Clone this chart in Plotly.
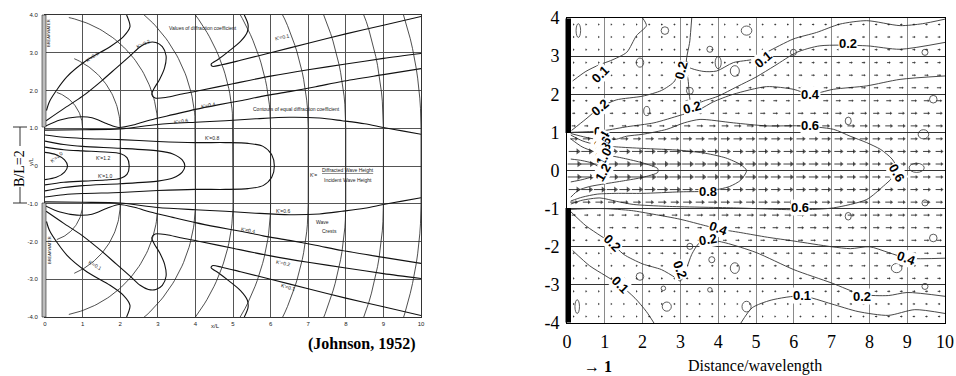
import numpy as np
import plotly.graph_objects as go

W, H = 956, 376

def px(x):
    return x / W

def py(y):
    return 1 - y / H

# ---------------- Left panel: Johnson (1952), B/L = 2 ----------------
# upper-half curves (lower half drawn as the mirror image)
jk_01_inner = [(0.04, 1.47), (0.13, 1.73), (0.58, 2.36), (1.11, 2.8), (1.73, 3.16),
               (2.08, 3.42), (2.26, 3.69), (2.17, 4.0)]
jk_02_loop = [(0.03, 1.2), (0.5, 1.52), (1.0, 1.85), (1.5, 2.25), (1.9, 2.6), (2.3, 2.95),
              (2.53, 3.16), (2.75, 3.27), (2.95, 3.27), (3.12, 3.16), (3.22, 2.92), (3.18, 2.6),
              (3.05, 2.3), (2.9, 2.05), (2.84, 1.9), (2.93, 1.8), (3.24, 1.82), (3.6, 1.9),
              (4.12, 2.0), (5.0, 2.18), (6.0, 2.38), (7.0, 2.55), (8.0, 2.7), (9.0, 2.85), (10, 2.98)]
jk_01_outer = [(5.3, 4.0), (5.4, 3.75), (5.38, 3.55), (5.2, 3.3), (4.9, 3.05), (4.6, 2.82),
               (4.42, 2.7), (4.45, 2.64), (4.7, 2.68), (5.2, 2.8), (6.0, 3.0), (7.0, 3.25),
               (8.0, 3.5), (9.0, 3.73), (10, 3.96)]
jk_04 = [(0.0, 1.05), (0.4, 1.22), (0.85, 1.3), (1.25, 1.28), (1.65, 1.12), (1.97, 1.02),
         (2.4, 1.1), (2.8, 1.22), (3.4, 1.36), (4.0, 1.5), (4.6, 1.62), (5.2, 1.73), (5.8, 1.85),
         (6.5, 1.97), (7.2, 2.1), (7.9, 2.24), (9.0, 2.42), (10, 2.58)]
jk_06 = [(0, 0.95), (1, 0.96), (2, 0.98), (3, 1.1), (4, 1.16), (4.8, 1.2), (5.6, 1.25),
         (6.5, 1.29), (7.3, 1.27), (7.9, 1.2), (8.5, 1.12), (9, 1.02), (9.5, 0.93), (10, 0.84)]
# tongues inside the gap (upper half, closed by mirror)
jk_t08 = [(0, 0.82), (0.5, 0.76), (1, 0.73), (2, 0.7), (3, 0.65), (4, 0.62), (4.8, 0.62),
          (5.4, 0.6), (5.8, 0.52), (6.03, 0.3), (6.1, 0.0)]
jk_t10 = [(0, 0.66), (0.5, 0.57), (1, 0.52), (2, 0.47), (3, 0.4), (3.4, 0.32), (3.65, 0.16), (3.72, 0.0)]
jk_t12 = [(0, 0.5), (0.5, 0.43), (1, 0.4), (1.6, 0.37), (2.0, 0.33), (2.18, 0.22), (2.24, 0.0)]
jk_t20 = [(0, 0.36), (0.3, 0.3), (0.52, 0.16), (0.6, 0.0)]
# wave crests: crest number (wavelengths from gap) and where the arc stops near the wall
crest_n = [1, 2, 3, 4, 5, 6, 7, 8, 9, 10]
crest_xmin = [0.3, 0.75, 0.6, 0, 0, 0, 0, 0, 0, 0]

jk_labels = [("K'=0.1", 1.24, 2.89, -35), ("K'=0.2", 2.6, 3.24, -25), ("K'=0.6", 3.63, 1.18, -8),
             ("K'=0.4", 4.34, 1.62, -10), ("K'=0.8", 4.45, 0.74, 0), ("K'=1.2", 1.55, 0.2, 0),
             ("K'=1.0", 1.6, -0.27, 0), ("K'=2.0", 0.3, 0.25, -40), ("K'=0.1", 6.3, 3.42, -12),
             ("K'=0.6", 6.34, -1.2, 0), ("K'=0.4", 5.41, -1.69, 10), ("K'=0.2", 6.34, -2.58, 12),
             ("K'=0.1", 6.47, -3.2, 15), ("K'=0.1", 1.33, -2.62, 30)]

# ---------------- Right panel: measured diffraction ----------------
rc = {
    "c01a": [(0.15, 2.35), (0.5, 2.6), (0.87, 2.78), (1.15, 2.88), (1.58, 3.1), (1.84, 3.54), (2.1, 3.8), (2.0, 4.0)],
    "c01b": [(3.3, 4.0), (3.25, 3.4), (3.17, 2.75), (3.6, 2.6), (3.96, 2.61), (4.4, 2.83), (4.93, 2.92),
             (5.28, 3.1), (5.99, 3.45), (6.6, 3.62), (7.22, 3.84), (7.93, 3.93), (8.81, 3.8), (9.4, 3.85), (10, 3.97)],
    "c02u": [(0.12, 1.05), (0.5, 1.35), (0.87, 1.65), (1.3, 1.85), (2.0, 1.95), (2.5, 2.1), (2.85, 2.35),
             (2.95, 2.8), (3.1, 2.85), (3.2, 2.4), (3.3, 1.75), (3.7, 1.85), (4.0, 1.95), (4.5, 2.2),
             (5.0, 2.45), (5.5, 2.75), (6.08, 3.1), (6.69, 3.27), (7.93, 3.27), (8.81, 3.18), (10, 3.36)],
    "c04u": [(0.1, 1.0), (0.6, 1.02), (1.0, 1.05), (1.6, 1.15), (2.3, 1.25), (3.0, 1.45), (3.5, 1.6),
             (3.87, 1.8), (4.4, 2.0), (5.28, 2.2), (5.99, 2.13), (6.43, 2.0), (7.05, 2.13), (7.93, 2.22),
             (8.81, 2.39), (10, 2.48)],
    "c06": [(0.1, 0.97), (0.5, 0.87), (0.9, 0.8), (1.3, 0.82), (1.58, 0.9), (2.0, 0.95), (2.64, 1.08),
            (3.1, 1.25), (3.52, 1.34), (4.4, 1.25), (5.28, 1.17), (6.16, 1.17), (7.05, 1.08), (7.49, 0.9),
            (7.93, 0.73), (8.3, 0.55), (8.6, 0.3), (8.75, 0.0), (8.6, -0.2), (8.37, -0.41), (7.93, -0.76),
            (7.05, -0.98), (6.16, -1.03), (4.4, -0.98), (2.64, -0.94), (1.75, -0.89), (1.31, -0.81),
            (0.87, -0.72), (0.4, -0.78), (0.1, -0.88)],
    "c08": [(0.1, 0.93), (0.4, 0.78), (0.8, 0.67), (1.3, 0.62), (2, 0.58), (3, 0.53), (3.67, 0.45),
            (4.2, 0.33), (4.6, 0.15), (4.75, 0), (4.6, -0.25), (4.3, -0.42), (3.74, -0.54), (3, -0.56),
            (2, -0.6), (1.3, -0.6), (0.8, -0.62), (0.4, -0.7), (0.1, -0.8)],
    "c10": [(0.1, 0.83), (0.4, 0.62), (0.7, 0.5), (1, 0.42), (1.5, 0.32), (2, 0.2), (2.4, 0.05),
            (2.4, -0.05), (2, -0.18), (1.5, -0.27), (1, -0.35), (0.6, -0.42), (0.3, -0.52), (0.1, -0.7)],
    "c12": [(0.1, 0.3), (0.4, 0.26), (0.7, 0.18), (0.92, 0.0), (0.7, -0.15), (0.4, -0.24), (0.1, -0.3)],
    "c04l": [(0.1, -1.02), (0.6, -1.0), (1.0, -1.0), (1.7, -1.05), (2.3, -1.15), (3.0, -1.28), (3.67, -1.45),
             (4.0, -1.53), (4.6, -1.63), (5.3, -1.75), (6, -1.85), (7, -2.0), (7.5, -2.05), (8, -2.0),
             (8.5, -2.15), (9, -2.3), (10, -2.3)],
    "c02l": [(0.1, -1.08), (0.5, -1.45), (0.9, -1.72), (1.18, -1.9), (1.5, -2.2), (2.0, -2.45), (2.5, -2.6),
             (2.85, -2.8), (3.0, -2.9), (3.15, -2.6), (3.3, -2.2), (3.5, -1.9), (3.74, -1.82), (4.2, -1.9),
             (5, -2.15), (6, -2.6), (7, -2.95), (7.8, -3.25), (8.5, -3.28), (9, -3.2), (10, -3.3)],
    "c01la": [(0.15, -2.1), (0.6, -2.5), (1.0, -2.75), (1.4, -3.0), (1.8, -3.35), (2.1, -3.7), (2.3, -4.0)],
    "c01lb": [(4.6, -4.0), (4.9, -3.6), (5.4, -3.4), (6.21, -3.29), (7, -3.5), (7.7, -3.7), (8.5, -3.8),
              (9.2, -3.65), (10, -3.75)],
}
blob_x = [0.3, 2.59, 3.78, 4.75, 1.93, 4.0, 4.44, 3.25, 2.11, 7.44, 9.43, 9.47, 9.69, 9.25, 5.99,
          7.44, 1.93, 2.64, 3.25, 3.83, 4.44, 4.75, 8.72, 9.47, 9.69, 9.47, 0.27, 2.55, 3.78]
blob_y = [3.67, 3.67, 3.18, 3.67, 2.83, 2.83, 2.61, 2.09, 1.56, 1.3, 0.95, 3.1, 1.87, 0.07, 3.1,
          -1.2, -2.78, -3.57, -1.99, -2.34, -2.56, -3.57, -2.56, -0.85, -1.77, -3.04, -3.57, -3.09, -3.13]
blob_rx = [0.06, 0.1, 0.08, 0.14, 0.1, 0.08, 0.12, 0.09, 0.08, 0.08, 0.14, 0.08, 0.1, 0.2, 0.08,
           0.08, 0.1, 0.12, 0.08, 0.08, 0.12, 0.12, 0.14, 0.08, 0.1, 0.08, 0.06, 0.06, 0.06]
blob_ry = [0.18, 0.1, 0.08, 0.12, 0.12, 0.16, 0.14, 0.09, 0.12, 0.1, 0.12, 0.08, 0.1, 0.12, 0.08,
           0.1, 0.1, 0.12, 0.08, 0.08, 0.14, 0.14, 0.12, 0.08, 0.1, 0.08, 0.18, 0.06, 0.06]

rc_labels = [("0.1", 0.87, 2.53, -45), ("0.2", 0.87, 1.65, -40), ("0.2", 3.03, 2.61, -75),
             ("0.2", 3.3, 1.65, -15), ("0.1", 5.19, 2.92, -40), ("0.2", 7.44, 3.32, 0),
             ("0.4", 6.43, 2.0, 0), ("0.6", 6.43, 1.17, 0),
             ("0", 0.8, 1.02, 0), ("0.4", 0.92, 0.82, -60), ("0.6", 0.95, 0.66, -60),
             ("0.8", 0.95, 0.5, -60), ("1.0", 0.98, 0.36, -60), ("1.2", 0.95, -0.05, -60),
             ("0.8", 3.74, -0.54, 0), ("0.6", 6.16, -0.98, 0), ("0.4", 4.0, -1.53, 20),
             ("0.2", 3.74, -1.82, -10), ("0.2", 1.18, -1.9, 45), ("0.2", 2.99, -2.6, 70),
             ("0.1", 1.4, -3.0, 45), ("0.1", 6.21, -3.29, 0), ("0.2", 7.8, -3.31, 0),
             ("0.4", 8.99, -2.3, 20), ("0.6", 8.72, -0.05, 60)]

# arrow magnitude (relative wave height) per row (top y=3.83 -> bottom y=-3.83), per unit cell in x
arrow_y = [3.83, 3.5, 3.17, 2.83, 2.5, 2.17, 1.83, 1.5, 1.17, 0.83, 0.5, 0.17,
           -0.17, -0.5, -0.83, -1.17, -1.5, -1.83, -2.17, -2.5, -2.83, -3.17, -3.5, -3.83]
arrow_mag = [
    [.05, .05, .1, .1, .05, .1, .15, .15, .15, .15],
    [.05, .05, .1, .1, .05, .1, .15, .2, .2, .2],
    [.05, .05, .1, .1, .1, .1, .2, .2, .2, .2],
    [.05, .1, .1, .15, .1, .15, .2, .25, .25, .25],
    [.1, .1, .15, .15, .15, .2, .25, .3, .3, .3],
    [.1, .15, .15, .15, .2, .25, .3, .35, .35, .35],
    [.15, .2, .2, .2, .25, .3, .4, .4, .4, .45],
    [.2, .25, .3, .3, .35, .4, .45, .5, .5, .5],
    [.3, .35, .4, .5, .55, .6, .6, .6, .6, .55],
    [.6, .6, .65, .7, .7, .7, .7, .65, .6, .55],
    [.9, .85, .85, .85, .8, .75, .75, .7, .65, .6],
    [1.1, 1.0, .95, .9, .85, .8, .75, .7, .65, .6],
    [1.1, 1.0, .95, .9, .85, .8, .75, .7, .65, .6],
    [.9, .85, .85, .8, .8, .75, .75, .7, .65, .6],
    [.6, .6, .65, .7, .7, .7, .65, .65, .6, .55],
    [.3, .4, .45, .5, .55, .55, .55, .55, .55, .5],
    [.2, .3, .35, .35, .4, .45, .5, .5, .5, .45],
    [.15, .2, .25, .3, .3, .35, .4, .4, .4, .4],
    [.1, .15, .2, .2, .2, .25, .3, .35, .35, .35],
    [.1, .1, .15, .15, .15, .2, .25, .3, .3, .3],
    [.05, .1, .1, .15, .1, .15, .2, .25, .25, .25],
    [.05, .05, .1, .1, .1, .1, .15, .2, .2, .2],
    [.05, .05, .1, .1, .05, .1, .1, .15, .15, .15],
    [.05, .05, .1, .1, .05, .05, .1, .1, .15, .15],
]
ARROWS_PER_UNIT = 3

right_ticks = list(range(-4, 5))
right_ticktext = ["-4", "-3", "-2", "-1", "0", "1", "2", "3", "4"]

# ---------------- helpers ----------------
def join(curves):
    xs, ys = [], []
    for c in curves:
        xs += [p[0] for p in c] + [None]
        ys += [p[1] for p in c] + [None]
    return xs, ys

def mirror(c):
    return [(x, -y) for x, y in c]

def closed(c):
    return c + [(x, -y) for x, y in reversed(c[:-1])]

fig = go.Figure()

# left contours
left_curves = []
for c in [jk_01_inner, jk_02_loop, jk_01_outer, jk_04, jk_06]:
    left_curves += [c, mirror(c)]
for c in [jk_t08, jk_t10, jk_t12, jk_t20]:
    left_curves.append(closed(c))
lx, ly = join(left_curves)
fig.add_trace(go.Scatter(x=lx, y=ly, mode="lines", line=dict(color="#111", width=1.1, shape="spline", smoothing=0.8),
                         xaxis="x", yaxis="y", hoverinfo="skip"))

# wave crests
crest_curves = []
for n, xmin in zip(crest_n, crest_xmin):
    t = np.linspace(0, np.pi / 2, 60)
    up = [(n * np.cos(a), 1 + n * np.sin(a)) for a in t if n * np.cos(a) >= xmin]
    lo = [(x, -y) for x, y in reversed(up)]
    crest_curves.append(lo + up)
cx, cy = join(crest_curves)
fig.add_trace(go.Scatter(x=cx, y=cy, mode="lines", line=dict(color="#222", width=0.8),
                         xaxis="x", yaxis="y", hoverinfo="skip"))

# right contours
rx, ry = join(list(rc.values()))
fig.add_trace(go.Scatter(x=rx, y=ry, mode="lines", line=dict(color="#333", width=0.9, shape="spline", smoothing=0.7),
                         xaxis="x2", yaxis="y2", hoverinfo="skip"))

# right arrows
ax_s, ay_s, hx, hy, hs = [], [], [], [], []
for yv, row in zip(arrow_y, arrow_mag):
    for cell, m in enumerate(row):
        for k in range(ARROWS_PER_UNIT):
            xc = cell + (k + 0.5) / ARROWS_PER_UNIT
            L = 0.27 * m
            ax_s += [xc - L / 2, xc + L / 2, None]
            ay_s += [yv, yv, None]
            hx.append(xc + L / 2)
            hy.append(yv)
            hs.append(max(2.2, min(5.5, 6 * m)))
fig.add_trace(go.Scatter(x=ax_s, y=ay_s, mode="lines", line=dict(color="#111", width=0.8),
                         xaxis="x2", yaxis="y2", hoverinfo="skip"))
fig.add_trace(go.Scatter(x=hx, y=hy, mode="markers", marker=dict(symbol="triangle-right", size=hs, color="#111", line=dict(width=0)),
                         xaxis="x2", yaxis="y2", hoverinfo="skip"))

shapes = []
for bx, by, brx, bry in zip(blob_x, blob_y, blob_rx, blob_ry):
    shapes.append(dict(type="circle", xref="x2", yref="y2", x0=bx - brx, x1=bx + brx, y0=by - bry, y1=by + bry,
                       line=dict(color="#333", width=0.8)))

# breakwaters
for y0, y1 in [(15, 127), (203, 317)]:
    shapes.append(dict(type="rect", xref="paper", yref="paper", x0=px(42), x1=px(46), y0=py(y1), y1=py(y0),
                       line=dict(color="#222", width=0.6), fillcolor="#bdbdbd"))
for y0, y1 in [(18.5, 133), (208, 322.5)]:
    shapes.append(dict(type="rect", xref="paper", yref="paper", x0=px(565.5), x1=px(571), y0=py(y1), y1=py(y0),
                       line=dict(width=0), fillcolor="black"))
# B/L bracket
for (x0, y0, x1, y1) in [(13, 127, 27, 127), (20, 127, 20, 146), (13, 203, 27, 203), (20, 187, 20, 203)]:
    shapes.append(dict(type="line", xref="paper", yref="paper", x0=px(x0), x1=px(x1), y0=py(y0), y1=py(y1),
                       line=dict(color="#333", width=1)))

ann = []
small = dict(family="Liberation Sans", size=5, color="#222")
for t, x, y, a in jk_labels:
    ann.append(dict(text=t, x=x, y=y, xref="x", yref="y", showarrow=False, textangle=a, font=small))
for t, x, y, a in rc_labels:
    ann.append(dict(text="<b>%s</b>" % t, x=x, y=y, xref="x2", yref="y2", showarrow=False, textangle=a,
                    font=dict(family="Liberation Sans", size=13, color="black"), bgcolor="white", borderpad=0))

texts = [
    ("Values of diffraction coefficient", 203, 28, 0, 5),
    ("Contours of equal diffraction coefficient", 296, 109, 0, 5),
    ("K'=", 313, 175, 0, 5),
    ("<u>Diffracted Wave Height</u>", 348, 170, 0, 5),
    ("Incident Wave Height", 348, 180, 0, 5),
    ("Wave", 322, 222, 0, 5),
    ("Crests", 329, 231, 0, 5),
    ("BREAKWATER", 49, 33, -90, 4),
    ("BREAKWATER", 49, 250, -90, 4),
    ("x/L", 215, 326, 0, 6),
    ("y/L", 31, 162, -90, 6),
]
for t, x, y, a, s in texts:
    ann.append(dict(text=t, x=px(x), y=py(y), xref="paper", yref="paper", showarrow=False, textangle=a,
                    xanchor="center", yanchor="middle",
                    font=dict(family="Liberation Sans", size=s, color="#222")))
big = [
    ("B/L=2", 19, 169, -90, "Liberation Serif", 14),
    ("<b>(Johnson, 1952)</b>", 362, 343.5, 0, "Liberation Serif", 16),
    ("Distance/wavelength", 755, 366, 0, "Liberation Serif", 16),
    ("\u2192 <b>1</b>", 598, 366, 0, "Liberation Serif", 16),
]
for t, x, y, a, f, s in big:
    ann.append(dict(text=t, x=px(x), y=py(y), xref="paper", yref="paper", showarrow=False, textangle=a,
                    xanchor="center", yanchor="middle", font=dict(family=f, size=s, color="black")))

fig.update_layout(
    template="none",
    width=W, height=H, margin=dict(l=0, r=0, t=0, b=0, pad=0, autoexpand=False),
    paper_bgcolor="white", plot_bgcolor="white",
    showlegend=False, hovermode=False, shapes=shapes, annotations=ann,
    xaxis=dict(domain=[px(45), px(421)], range=[0, 10], tickvals=list(range(11)), showgrid=True, automargin=False,
               gridcolor="#555", gridwidth=1, zeroline=False, showline=True, linecolor="#333", mirror=True,
               ticks="", tickfont=dict(family="Liberation Sans", size=6, color="#222"), ticklabelstandoff=1),
    yaxis=dict(domain=[py(317), py(15)], range=[-4, 4], tickvals=list(range(-4, 5)), automargin=False,
               ticktext=["-4.0", "-3.0", "-2.0", "-1.0", "0", "1.0", "2.0", "3.0", "4.0"], showgrid=True,
               gridcolor="#555", gridwidth=1, zeroline=False, showline=True, linecolor="#333", mirror=True,
               ticks="", tickfont=dict(family="Liberation Sans", size=6, color="#222"), ticklabelstandoff=5),
    xaxis2=dict(domain=[px(567), px(945)], range=[0, 10], tickvals=list(range(11)), showgrid=True, automargin=False,
                gridcolor="#8a8a8a", gridwidth=1, zeroline=False, showline=True, linecolor="black", mirror=True,
                ticks="", tickfont=dict(family="Liberation Serif", size=18, color="black"), anchor="y2",
                ticklabelstandoff=2),
    yaxis2=dict(domain=[py(323), py(18)], range=[-4, 4], tickvals=right_ticks, ticktext=right_ticktext,
                showgrid=True, automargin=False,
                gridcolor="#333", gridwidth=1, zeroline=False, showline=True, linecolor="black", mirror=True,
                ticks="", tickfont=dict(family="Liberation Serif", size=18, color="black"), anchor="x2",
                ticklabelstandoff=3),
)

fig.write_html("out.html", config={"displayModeBar": False, "staticPlot": True},
               post_script="document.body.style.margin='0';document.body.style.padding='0';")
